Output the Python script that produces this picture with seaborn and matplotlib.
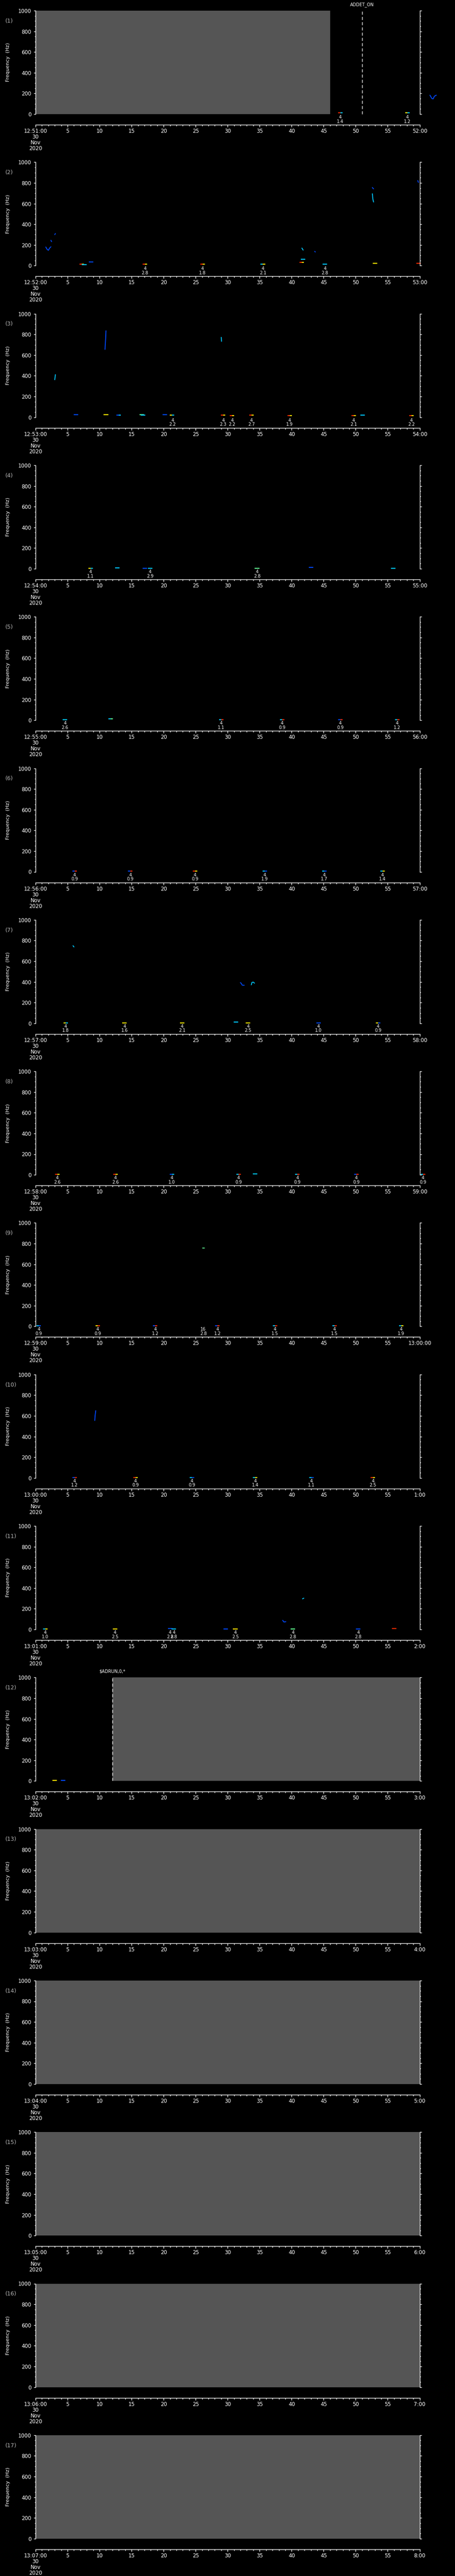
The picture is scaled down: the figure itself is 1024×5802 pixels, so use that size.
import matplotlib
matplotlib.use("Agg")
import matplotlib.pyplot as plt
from matplotlib.ticker import MultipleLocator
import seaborn as sns
import pandas as pd

# ---- panel time ranges ----
starts = ["12:51:00", "12:52:00", "12:53:00", "12:54:00", "12:55:00", "12:56:00",
          "12:57:00", "12:58:00", "12:59:00", "13:00:00", "13:01:00", "13:02:00",
          "13:03:00", "13:04:00", "13:05:00", "13:06:00", "13:07:00"]
ends = ["52:00", "53:00", "54:00", "55:00", "56:00", "57:00", "58:00", "59:00",
        "13:00:00", "1:00", "2:00", "3:00", "4:00", "5:00", "6:00", "7:00", "8:00"]
date_str = "30\nNov\n2020"

# ---- no-data (gray) intervals, seconds into the minute ----
gap_panel = [1, 12, 13, 14, 15, 16, 17]
gap_start = [0.0, 12.0, 0.0, 0.0, 0.0, 0.0, 0.0]
gap_end = [46.0, 60.0, 60.0, 60.0, 60.0, 60.0, 60.0]

# ---- dashed markers ----
mark_panel = [1, 12]
mark_time = [51.0, 12.0]
mark_text = ["ADDET_ON", "$ADRUN,0,*"]

# ---- event labels under the plot ----
ev_panel = [1, 1,
            2, 2, 2, 2,
            3, 3, 3, 3, 3, 3, 3,
            4, 4, 4,
            5, 5, 5, 5, 5,
            6, 6, 6, 6, 6, 6,
            7, 7, 7, 7, 7, 7,
            8, 8, 8, 8, 8, 8, 8,
            9, 9, 9, 9, 9, 9, 9, 9,
            10, 10, 10, 10, 10, 10,
            11, 11, 11, 11, 11, 11, 11]
ev_time = [47.6, 58.1,
           17.1, 26.1, 35.5, 45.2,
           21.4, 29.3, 30.7, 33.7, 39.7, 49.7, 58.7,
           8.6, 17.9, 34.6,
           4.6, 29.0, 38.5, 47.6, 56.5,
           6.1, 14.8, 24.9, 35.8, 45.1, 54.2,
           4.7, 13.9, 22.9, 33.2, 44.2, 53.5,
           3.4, 12.5, 21.3, 31.7, 40.9, 50.1, 60.5,
           0.5, 9.7, 18.7, 26.2, 28.4, 37.4, 46.7, 57.1,
           6.1, 15.6, 24.4, 34.3, 43.1, 52.7,
           1.5, 12.4, 21.0, 21.6, 31.2, 40.2, 50.4]
ev_count = [4, 4,
            4, 4, 4, 4,
            4, 4, 4, 4, 4, 4, 4,
            4, 4, 4,
            4, 4, 4, 4, 4,
            4, 4, 4, 4, 4, 4,
            4, 4, 4, 4, 4, 4,
            4, 4, 4, 4, 4, 4, 4,
            4, 4, 4, 16, 4, 4, 4, 4,
            4, 4, 4, 4, 4, 4,
            4, 4, 4, 4, 4, 4, 4]
ev_value = ["1.4", "1.2",
            "2.8", "1.8", "2.1", "2.8",
            "2.2", "2.3", "2.2", "2.7", "1.9", "2.1", "2.2",
            "1.1", "2.9", "2.8",
            "2.6", "1.1", "0.9", "0.9", "1.2",
            "0.9", "0.9", "0.9", "1.9", "1.7", "1.4",
            "1.8", "1.6", "2.1", "2.5", "1.0", "0.9",
            "2.6", "2.6", "1.0", "0.9", "0.9", "0.9", "0.9",
            "0.9", "0.9", "1.2", "2.8", "1.2", "1.5", "1.5", "1.9",
            "1.2", "0.9", "0.9", "1.4", "1.1", "2.5",
            "1.0", "2.5", "2.8", "2.8", "2.5", "2.8", "2.8"]

# ---- short low-frequency blips (time, freq, colour code) ----
blip_panel = [1, 1,
              2, 2, 2, 2, 2, 2, 2, 2, 2, 2, 2,
              3, 3, 3, 3, 3, 3, 3, 3, 3, 3, 3, 3, 3, 3,
              4, 4, 4, 4, 4, 4, 4,
              5, 5, 5, 5, 5, 5,
              6, 6, 6, 6, 6, 6,
              7, 7, 7, 7, 7, 7, 7,
              8, 8, 8, 8, 8, 8, 8, 8,
              9, 9, 9, 9, 9, 9, 9,
              10, 10, 10, 10, 10, 10,
              11, 11, 11, 11, 11, 11, 11, 11, 11,
              12, 12]
blip_t = [47.6, 58.1,
          7.2, 7.6, 8.7, 17.1, 26.1, 35.5, 41.6, 41.8, 45.2, 53.0, 59.8,
          6.3, 11.0, 13.0, 16.6, 16.8, 20.2, 21.3, 29.3, 30.7, 33.7, 39.7, 49.7, 51.1, 58.7,
          8.6, 12.8, 17.1, 17.9, 34.6, 43.0, 55.9,
          4.6, 11.7, 29.0, 38.5, 47.6, 56.5,
          6.1, 14.8, 24.9, 35.8, 45.1, 54.2,
          4.7, 13.9, 22.9, 31.3, 33.2, 44.2, 53.5,
          3.4, 12.5, 21.3, 31.7, 34.3, 40.9, 50.1, 60.5,
          0.5, 9.7, 18.7, 28.4, 37.4, 46.7, 57.1,
          6.1, 15.6, 24.4, 34.3, 43.1, 52.7,
          1.5, 12.4, 21.0, 21.6, 29.7, 31.2, 40.2, 50.4, 56.0,
          3.0, 4.3]
blip_f = [14, 14,
          15, 12, 36, 15, 15, 15, 30, 62, 15, 24, 22,
          25, 25, 20, 25, 18, 25, 18, 18, 15, 18, 15, 15, 20, 15,
          5, 10, 6, 5, 6, 11, 6,
          6, 12, 5, 5, 5, 5,
          5, 5, 5, 5, 5, 5,
          5, 5, 5, 10, 5, 5, 5,
          5, 5, 5, 5, 9, 5, 5, 5,
          5, 5, 5, 5, 5, 5, 5,
          5, 5, 5, 5, 5, 5,
          5, 5, 7, 5, 6, 5, 5, 5, 10,
          5, 5]
blip_c = ["rc", "yc",
          "ry", "c", "b", "ry", "ry", "cy", "ry", "c", "c", "y", "r",
          "b", "y", "bc", "g", "c", "b", "yc", "ry", "ry", "ry", "ry", "ry", "c", "ry",
          "yc", "c", "b", "c", "g", "b", "c",
          "c", "cg", "cr", "cr", "br", "cr",
          "br", "br", "ry", "cb", "cb", "cy",
          "yc", "y", "y", "c", "y", "b", "yb",
          "ry", "ry", "bc", "cr", "c", "cr", "br", "cr",
          "cb", "yr", "br", "br", "cr", "cr", "cy",
          "br", "ry", "cb", "cy", "cb", "ry",
          "cy", "y", "b", "c", "b", "y", "g", "b", "r",
          "y", "b"]

# ---- detection traces ----
trace_panel = [1, 2, 2, 2, 2, 2, 2, 2, 2, 3, 3, 3, 7, 7, 7, 9, 10, 11, 11]
trace_t = [[61.6, 61.9, 62.1, 62.3, 62.6],
           [1.6, 1.8, 2.0, 2.2, 2.4], [2.4, 2.5], [3.0, 3.1], [41.6, 41.8],
           [43.6, 43.7], [52.6, 52.8], [52.6, 52.7, 52.8], [59.7, 59.8],
           [3.0, 3.1], [10.85, 10.95, 11.0], [29.0, 29.05],
           [5.85, 6.0], [32.0, 32.1, 32.3, 32.6], [33.7, 33.8, 34.0, 34.2],
           [26.1, 26.4],
           [9.25, 9.3, 9.4],
           [38.6, 38.8, 39.1], [41.7, 41.9]]
trace_f = [[183, 151, 147, 173, 183],
           [180, 158, 148, 170, 182], [245, 232], [300, 310], [170, 150],
           [138, 132], [755, 742], [695, 640, 615], [822, 805],
           [362, 411], [655, 765, 835], [772, 733],
           [750, 738], [393, 388, 368, 368], [372, 395, 398, 388],
           [756, 756],
           [555, 600, 650],
           [88, 72, 75], [296, 302]]
trace_c = ["b", "b", "b", "b", "c", "b", "b", "c", "b", "c", "b", "c",
           "c", "b", "c", "g", "b", "b", "c"]

palette = {"r": "#ff2a00", "y": "#ffe600", "c": "#00c8ff", "b": "#0048ff", "g": "#60ff90"}

sns.set_theme(style="dark")
plt.rcParams.update({
    "font.family": ["DejaVu Sans"],
    "figure.facecolor": "black",
    "axes.facecolor": "black",
    "axes.edgecolor": "white",
    "text.color": "white",
    "xtick.color": "white",
    "ytick.color": "white",
})

W, H = 1024, 5802
pitch = 341.3
left, width = 80, 864.5

fig = plt.figure(figsize=(W / 100, H / 100), dpi=100)

for k in range(17):
    p = k + 1
    y0 = k * pitch
    ax = fig.add_axes([left / W, 1 - (y0 + 257) / H, width / W, 233 / H])
    ax.set_xlim(0, 60)
    ax.set_ylim(0, 1000)
    ax.set_facecolor("black")
    ax.grid(False)
    ax.spines["top"].set_visible(False)
    ax.spines["bottom"].set_visible(False)
    for s in ("left", "right"):
        ax.spines[s].set_visible(True)
        ax.spines[s].set_color("white")
        ax.spines[s].set_linewidth(1.0)
    ax.set_xticks([])
    ax.yaxis.set_major_locator(MultipleLocator(200))
    ax.yaxis.set_minor_locator(MultipleLocator(50))
    ax.tick_params(axis="y", which="both", direction="out", colors="white",
                   left=True, right=True, labelright=False, labelsize=8.5, pad=4)
    ax.tick_params(axis="y", which="major", length=3, width=1)
    ax.tick_params(axis="y", which="minor", length=1.7, width=1)
    ax.set_ylabel("Frequency  (Hz)", color="white", fontsize=8)
    ax.yaxis.set_label_coords(-0.066, 0.5)
    ax.text(-0.079, 0.90, f"({p})", transform=ax.transAxes, color="#b4b4b4",
            fontsize=9, ha="left", va="center")

    # gray no-data spans
    for gp, gs, ge in zip(gap_panel, gap_start, gap_end):
        if gp == p:
            ax.axvspan(gs, ge, color="#555555", lw=0, zorder=0.5)

    # dashed markers
    for mp, mt, mtx in zip(mark_panel, mark_time, mark_text):
        if mp == p:
            ax.axvline(mt, color="white", lw=1.0, ls=(0, (5, 3.5)), zorder=3)
            ax.annotate(mtx, xy=(mt, 1000), xytext=(0, 6), textcoords="offset points",
                        ha="center", va="bottom", fontsize=7, color="white",
                        annotation_clip=False)

    # traces
    rows = []
    for i, (tp, tt, ff, cc) in enumerate(zip(trace_panel, trace_t, trace_f, trace_c)):
        if tp == p:
            for a, b in zip(tt, ff):
                rows.append({"t": a, "f": b, "id": i, "c": cc})
    if rows:
        df = pd.DataFrame(rows)
        sns.lineplot(data=df, x="t", y="f", units="id", hue="c", palette=palette,
                     estimator=None, sort=False, legend=False, lw=1.4, ax=ax)
        for ln in ax.lines:
            ln.set_clip_on(False)
        ax.set_xlabel("")
        ax.set_ylabel("Frequency  (Hz)", color="white", fontsize=8)
        ax.yaxis.set_label_coords(-0.066, 0.5)

    # blips
    for bp, bt, bf, bc in zip(blip_panel, blip_t, blip_f, blip_c):
        if bp != p:
            continue
        if len(bc) == 1:
            ax.hlines(bf, bt - 0.35, bt + 0.35, color=palette[bc], lw=1.6, clip_on=False)
        else:
            ax.hlines(bf, bt - 0.35, bt, color=palette[bc[0]], lw=1.6, clip_on=False)
            ax.hlines(bf, bt, bt + 0.35, color=palette[bc[1]], lw=1.6, clip_on=False)

    # event labels
    for ep, et, ec, ev in zip(ev_panel, ev_time, ev_count, ev_value):
        if ep == p:
            ax.annotate(f"{ec}\n{ev}", xy=(et, 0), xytext=(0, -1.5),
                        textcoords="offset points", ha="center", va="top",
                        fontsize=7, color="white", linespacing=0.95,
                        annotation_clip=False)

    # separate time axis below
    axt = fig.add_axes([left / W, 1 - (y0 + 281) / H, width / W, 0.5 / H])
    axt.set_facecolor("none")
    axt.patch.set_alpha(0)
    axt.grid(False)
    axt.set_xlim(0, 60)
    for s in ("left", "right", "top"):
        axt.spines[s].set_visible(False)
    axt.spines["bottom"].set_color("white")
    axt.spines["bottom"].set_linewidth(1.0)
    axt.set_yticks([])
    majors = list(range(0, 61, 5))
    labels = [starts[k] + "\n" + date_str] + [str(m) for m in majors[1:-1]] + [ends[k]]
    axt.set_xticks(majors)
    axt.set_xticklabels(labels, fontsize=8.5, color="white", linespacing=1.0)
    axt.xaxis.set_minor_locator(MultipleLocator(1))
    axt.tick_params(axis="x", which="both", direction="out", colors="white", pad=2.5,
                    bottom=True)
    axt.tick_params(axis="x", which="major", length=3.3, width=1)
    axt.tick_params(axis="x", which="minor", length=1.8, width=1)

fig.savefig("out.png", dpi=100, facecolor="black")
